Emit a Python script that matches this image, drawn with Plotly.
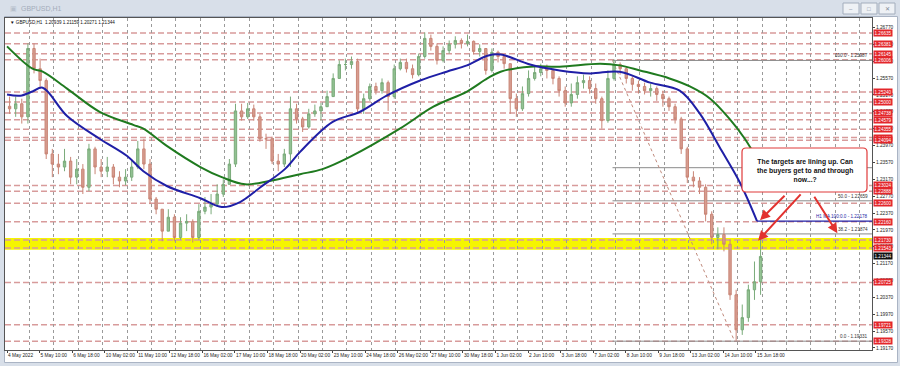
import plotly.graph_objects as go

# ---------------- data ----------------
symbol = "GBPUSD,H1"
header_ohlc = "1.20939 1.21159 1.20271 1.21344"
hours_per_candle = 6          # each drawn candle aggregates 6 hourly bars
first_open = 1.2490
closes = [1.2484,1.2496,1.2465,1.2627,1.2579,1.2551,1.2377,1.2353,1.2346,1.2360,
          1.2322,1.2341,1.2298,1.2389,1.2346,1.2336,1.2346,1.2322,1.2313,1.2322,
          1.2346,1.2389,1.2353,1.2270,1.2246,1.2194,1.2227,1.2179,1.2213,1.2217,
          1.2179,1.2241,1.2251,1.2258,1.2282,1.2305,1.2353,1.2479,1.2465,1.2484,
          1.2465,1.2413,1.2413,1.2360,1.2353,1.2377,1.2484,1.2460,1.2441,1.2472,
          1.2479,1.2489,1.2513,1.2556,1.2589,1.2589,1.2596,1.2484,1.2508,1.2537,
          1.2527,1.2546,1.2513,1.2579,1.2594,1.2579,1.2565,1.2608,1.2651,1.2632,
          1.2599,1.2622,1.2637,1.2646,1.2639,1.2644,1.2620,1.2627,1.2575,1.2618,
          1.2608,1.2591,1.2508,1.2484,1.2520,1.2556,1.2570,1.2579,1.2575,1.2556,
          1.2527,1.2498,1.2518,1.2546,1.2551,1.2532,1.2508,1.2456,1.2556,1.2589,
          1.2579,1.2556,1.2542,1.2537,1.2527,1.2532,1.2518,1.2508,1.2489,1.2460,
          1.2389,1.2322,1.2313,1.2298,1.2234,1.2179,1.2186,1.2163,1.2043,1.1960,
          1.1989,1.2055,1.2074,1.2134]
highs = [1.2513,1.2513,1.2508,1.2639,1.2639,1.2603,1.2556,1.2389,1.2377,1.2389,
         1.2370,1.2365,1.2353,1.2401,1.2394,1.2365,1.2370,1.2353,1.2336,1.2341,
         1.2365,1.2408,1.2413,1.2365,1.2275,1.2246,1.2246,1.2234,1.2227,1.2234,
         1.2222,1.2258,1.2275,1.2282,1.2305,1.2317,1.2365,1.2496,1.2496,1.2498,
         1.2494,1.2472,1.2425,1.2418,1.2377,1.2389,1.2513,1.2496,1.2465,1.2484,
         1.2494,1.2498,1.2527,1.2568,1.2599,1.2603,1.2608,1.2603,1.2520,1.2544,
         1.2546,1.2556,1.2551,1.2589,1.2603,1.2603,1.2589,1.2615,1.2665,1.2660,
         1.2639,1.2632,1.2646,1.2656,1.2651,1.2660,1.2646,1.2637,1.2627,1.2627,
         1.2622,1.2608,1.2591,1.2520,1.2537,1.2575,1.2584,1.2591,1.2589,1.2579,
         1.2561,1.2537,1.2544,1.2561,1.2565,1.2561,1.2544,1.2513,1.2575,1.2601,
         1.2594,1.2584,1.2561,1.2551,1.2546,1.2544,1.2537,1.2527,1.2513,1.2496,
         1.2465,1.2394,1.2336,1.2322,1.2305,1.2241,1.2203,1.2203,1.2174,1.2055,
         1.2020,1.2067,1.2122,1.2174]
lows = [1.2472,1.2465,1.2449,1.2449,1.2568,1.2532,1.2365,1.2322,1.2329,1.2336,
        1.2305,1.2305,1.2282,1.2289,1.2329,1.2322,1.2322,1.2305,1.2298,1.2303,
        1.2313,1.2341,1.2341,1.2258,1.2234,1.2170,1.2194,1.2170,1.2174,1.2194,
        1.2167,1.2174,1.2234,1.2234,1.2251,1.2275,1.2305,1.2346,1.2456,1.2460,
        1.2456,1.2406,1.2389,1.2353,1.2336,1.2346,1.2346,1.2449,1.2429,1.2437,
        1.2465,1.2456,1.2489,1.2513,1.2556,1.2575,1.2579,1.2472,1.2472,1.2503,
        1.2518,1.2520,1.2479,1.2508,1.2575,1.2570,1.2556,1.2561,1.2603,1.2622,
        1.2589,1.2594,1.2615,1.2627,1.2627,1.2632,1.2613,1.2608,1.2565,1.2570,
        1.2594,1.2579,1.2472,1.2465,1.2479,1.2513,1.2551,1.2561,1.2556,1.2542,
        1.2513,1.2489,1.2489,1.2508,1.2532,1.2520,1.2496,1.2437,1.2451,1.2551,
        1.2565,1.2544,1.2527,1.2520,1.2518,1.2513,1.2503,1.2489,1.2479,1.2449,
        1.2377,1.2308,1.2298,1.2282,1.2217,1.2163,1.2151,1.2146,1.2031,1.1934,
        1.1948,1.1979,1.2031,1.2043]

# moving averages (hour index from 4 May 02:00, value)
ma100_bar = [0, 13, 25, 35, 59, 91, 118, 134, 157, 190, 211, 229, 249, 273, 288, 320,
             347, 373, 406, 432, 452, 472, 485, 514, 543, 573, 602, 632, 661, 681, 700, 720, 737]
ma100_val = [1.2518, 1.2515, 1.2525, 1.2534, 1.2467, 1.2413, 1.2372, 1.2336, 1.2301, 1.2272,
             1.2251, 1.2263, 1.2298, 1.2341, 1.2382, 1.2453, 1.2477, 1.2515, 1.2551, 1.2572,
             1.2587, 1.2610, 1.2613, 1.2589, 1.2575, 1.2568, 1.2572, 1.2546, 1.2527, 1.2472,
             1.2394, 1.2310, 1.2218]
ma200_bar = [0, 25, 35, 59, 91, 124, 134, 157, 190, 211, 234, 258, 288, 310, 337, 386,
             419, 452, 472, 485, 514, 543, 583, 602, 622, 651, 671, 691, 710, 725, 737]
ma200_val = [1.2632, 1.2579, 1.2572, 1.2532, 1.2477, 1.2446, 1.2437, 1.2396, 1.2346, 1.2322,
             1.2305, 1.2313, 1.2329, 1.2341, 1.2370, 1.2437, 1.2489, 1.2525, 1.2556, 1.2572,
             1.2584, 1.2584, 1.2591, 1.2587, 1.2575, 1.2556, 1.2537, 1.2508, 1.2460, 1.2413,
             1.2365]

time_labels = ["4 May 2022", "5 May 10:00", "6 May 18:00", "10 May 02:00", "11 May 10:00",
               "12 May 18:00", "16 May 02:00", "17 May 10:00", "18 May 18:00", "20 May 02:00",
               "23 May 10:00", "24 May 18:00", "26 May 02:00", "27 May 10:00", "30 May 18:00",
               "1 Jun 02:00", "2 Jun 10:00", "3 Jun 18:00", "7 Jun 02:00", "8 Jun 10:00",
               "9 Jun 18:00", "13 Jun 02:00", "14 Jun 10:00", "15 Jun 18:00"]
label_step_bars = 32
first_midnight_bar = 22
price_ticks = [1.19170, 1.19570, 1.19970, 1.20370, 1.20770, 1.21170, 1.21570, 1.21970,
               1.22370, 1.22770, 1.23170, 1.23570, 1.23970, 1.24370, 1.24770, 1.25170,
               1.25570, 1.25970, 1.26370, 1.26770]
levels = [1.26635, 1.26381, 1.26145, 1.26006, 1.25240, 1.25000, 1.24738, 1.24579, 1.24355,
          1.24157, 1.24094, 1.23024, 1.22888, 1.22600, 1.22160, 1.21730, 1.21543, 1.20725,
          1.19721, 1.19328]
band_low, band_high = 1.21500, 1.21780
fib_start_bar, fib_low_bar = 595, 715
fib_names = ["100.0", "61.8", "50.0", "38.2", "0.0"]
fib_values = [1.25987, 1.23444, 1.22659, 1.21874, 1.19331]
ma_last_bar, ma_last = 737, 1.22178
last_price = 1.21344
note = "The targets are lining up. Can<br>the buyers get to and through<br>now...?"

# ---------------- geometry ----------------
W, H = 900, 366
L, R, T, B = 5, 28, 18, 16
PW, PH = W - L - R, H - T - B
XMIN, XMAX = -2, 850
YMIN, YMAX = 1.19122, 1.26993
FONT = "Liberation Sans, Arial, sans-serif"


def pxx(x):
    return (x - L) / PW


def pxy(y):
    return (H - B - y) / PH


opens = [first_open] + closes[:-1]
cx = [hours_per_candle * i + 2.5 for i in range(len(closes))]

fig = go.Figure()
fig.add_trace(go.Candlestick(
    x=cx, open=opens, high=highs, low=lows, close=closes,
    increasing=dict(line=dict(color="#7aab7a", width=1), fillcolor="#93c293"),
    decreasing=dict(line=dict(color="#c98576", width=1), fillcolor="#d79d90"),
    whiskerwidth=0, hoverinfo="skip", showlegend=False))
fig.add_trace(go.Scatter(x=ma200_bar, y=ma200_val, mode="lines", hoverinfo="skip",
                         line=dict(color="#1f7a1f", width=2, shape="spline", smoothing=1.0),
                         showlegend=False))
fig.add_trace(go.Scatter(x=ma100_bar, y=ma100_val, mode="lines", hoverinfo="skip",
                         line=dict(color="#1f1fa6", width=2, shape="spline", smoothing=1.0),
                         showlegend=False))

shapes = []
# window chrome (outside plot area)
chrome = "#d8dfe9"
shapes.append(dict(type="rect", xref="paper", yref="paper", x0=pxx(0), x1=pxx(W), y0=pxy(0), y1=pxy(16.5),
                   fillcolor=chrome, line_width=0, layer="below"))
shapes.append(dict(type="rect", xref="paper", yref="paper", x0=pxx(0), x1=pxx(4.5), y0=pxy(0), y1=pxy(H),
                   fillcolor=chrome, line_width=0, layer="below"))
shapes.append(dict(type="rect", xref="paper", yref="paper", x0=pxx(897.5), x1=pxx(W), y0=pxy(0), y1=pxy(H),
                   fillcolor=chrome, line_width=0, layer="below"))
shapes.append(dict(type="rect", xref="paper", yref="paper", x0=pxx(0), x1=pxx(W), y0=pxy(362.5), y1=pxy(H),
                   fillcolor=chrome, line_width=0, layer="below"))
shapes.append(dict(type="rect", xref="paper", yref="paper", x0=pxx(4.5), x1=pxx(897.5), y0=pxy(16.5), y1=pxy(362.5),
                   fillcolor="rgba(0,0,0,0)", line=dict(color="#aab4c4", width=1), layer="below"))
for bx in (843, 861, 879):
    shapes.append(dict(type="rect", xref="paper", yref="paper", x0=pxx(bx), x1=pxx(bx + 16), y0=pxy(3), y1=pxy(14),
                       fillcolor="#eef1f5", line=dict(color="#a3adbc", width=1), layer="below"))

# yellow zone and red dashed levels
shapes.append(dict(type="rect", xref="paper", x0=0, x1=1, yref="y", y0=band_low, y1=band_high,
                   fillcolor="#f5f500", line_width=0, layer="below"))
for lv in levels:
    shapes.append(dict(type="line", xref="paper", x0=0, x1=1, yref="y", y0=lv, y1=lv,
                       line=dict(color="#d89b9b", width=1.5, dash="6px,3px"), layer="below"))
# fibonacci levels
for fv in fib_values:
    shapes.append(dict(type="line", xref="x", x0=fib_start_bar, x1=XMAX, yref="y", y0=fv, y1=fv,
                       line=dict(color="#8a8a8a", width=1), layer="below"))
shapes.append(dict(type="line", xref="x", yref="y", x0=fib_start_bar, y0=fib_values[0],
                   x1=fib_low_bar, y1=fib_values[-1],
                   line=dict(color="#c08a7c", width=1, dash="dot"), layer="below"))
# MA ray
shapes.append(dict(type="line", xref="x", x0=ma_last_bar, x1=XMAX, yref="y", y0=ma_last, y1=ma_last,
                   line=dict(color="#1f1fa6", width=1.2), layer="above"))

# rounded note box
bx0, by0, bx1, by1, r = 742, 148, 867, 192, 4
pts = [("M", bx0 + r, by0), ("L", bx1 - r, by0), ("Q", bx1, by0, bx1, by0 + r), ("L", bx1, by1 - r),
       ("Q", bx1, by1, bx1 - r, by1), ("L", bx0 + r, by1), ("Q", bx0, by1, bx0, by1 - r),
       ("L", bx0, by0 + r), ("Q", bx0, by0, bx0 + r, by0)]
path = ""
for p in pts:
    cmd = p[0]
    coords = p[1:]
    segs = []
    for k in range(0, len(coords), 2):
        segs.append(f"{pxx(coords[k]):.5f},{pxy(coords[k + 1]):.5f}")
    path += cmd + " " + " ".join(segs) + " "
path += "Z"
shapes.append(dict(type="path", xref="paper", yref="paper", path=path, fillcolor="white",
                   line=dict(color="#e03a3a", width=1.2), layer="above"))

annotations = []
# title bar text and window buttons glyphs
annotations.append(dict(xref="paper", yref="paper", x=pxx(19), y=pxy(8.5), xanchor="left", yanchor="middle",
                        text=symbol, showarrow=False, font=dict(size=7, color="#a4adbb", family=FONT)))
annotations.append(dict(xref="paper", yref="paper", x=pxx(8), y=pxy(8.5), xanchor="left", yanchor="middle",
                        text="▣", showarrow=False, font=dict(size=7, color="#b7c0cc", family=FONT)))
for bx, g in ((843, "–"), (861, "□"), (879, "✕")):
    annotations.append(dict(xref="paper", yref="paper", x=pxx(bx + 8), y=pxy(8.5), xanchor="center",
                            yanchor="middle", text=g, showarrow=False,
                            font=dict(size=6, color="#7d8795", family=FONT)))
# chart header
annotations.append(dict(xref="paper", yref="paper", x=pxx(8), y=pxy(22.5), xanchor="left", yanchor="middle",
                        text="▼ " + symbol + "  " + header_ohlc, showarrow=False,
                        font=dict(size=4.6, color="#111", family=FONT)))
# price labels for the levels
for lv in levels:
    annotations.append(dict(xref="paper", x=1, xanchor="left", xshift=1, yref="y", y=lv, yanchor="middle",
                            text=f"{lv:.5f}", showarrow=False, bgcolor="#e3262b", borderpad=0.5,
                            font=dict(size=4.6, color="white", family=FONT)))
annotations.append(dict(xref="paper", x=1, xanchor="left", xshift=1, yref="y", y=last_price, yanchor="middle",
                        text=f"{last_price:.5f}", showarrow=False, bgcolor="#111111", borderpad=0.5,
                        font=dict(size=4.6, color="white", family=FONT)))
# fibo labels
for name, fv in zip(fib_names, fib_values):
    if name == "61.8":
        continue
    annotations.append(dict(xref="paper", x=1, xanchor="right", xshift=-2, yref="y", y=fv, yanchor="bottom",
                            text=f"{name} - {fv:.5f}", showarrow=False,
                            font=dict(size=4.6, color="#333", family=FONT)))
annotations.append(dict(xref="paper", x=1, xanchor="right", xshift=-2, yref="y", y=ma_last, yanchor="bottom",
                        text=f"H1 MA 100:0.0 - {ma_last:.5f}", showarrow=False,
                        font=dict(size=4.6, color="#1f1fa6", family=FONT)))
# note text
annotations.append(dict(xref="paper", yref="paper", x=pxx((bx0 + bx1) / 2), y=pxy((by0 + by1) / 2),
                        xanchor="center", yanchor="middle", text="<b>" + note + "</b>", showarrow=False,
                        align="center", font=dict(size=6.8, color="#111", family=FONT)))
# arrows (head in data coords, tail offset in px)
for hx, hy, ax, ay in ((740, 1.2220, 26, -26), (738, 1.2171, 44, -48), (816, 1.2189, -24, -38)):
    annotations.append(dict(x=hx, y=hy, xref="x", yref="y", ax=ax, ay=ay, axref="pixel", ayref="pixel",
                            text="", showarrow=True, arrowhead=2, arrowsize=1, arrowwidth=2,
                            arrowcolor="#e2322f"))

fig.update_layout(
    width=W, height=H, margin=dict(l=L, r=R, t=T, b=B, pad=0),
    paper_bgcolor="white", plot_bgcolor="white", boxgap=0.45,
    shapes=shapes, annotations=annotations, hovermode=False, showlegend=False,
    font=dict(family=FONT, size=5, color="#222"),
    xaxis=dict(range=[XMIN, XMAX], rangeslider=dict(visible=False), showgrid=False, zeroline=False,
               tickmode="array", tickvals=[label_step_bars * k for k in range(len(time_labels))],
               ticktext=time_labels, ticks="outside", ticklen=2, tickcolor="#444", tickangle=0,
               ticklabelposition="outside right", tickfont=dict(size=4.8, color="#222", family=FONT),
               showline=True, mirror=True, linecolor="#555", linewidth=1,
               minor=dict(tickmode="linear", tick0=first_midnight_bar, dtick=24, showgrid=True,
                          gridcolor="#9a9a9a", griddash="dot", gridwidth=1, ticks="")),
    yaxis=dict(range=[YMIN, YMAX], side="right", showgrid=False, zeroline=False,
               tickmode="array", tickvals=price_ticks, ticktext=[f"{v:.5f}" for v in price_ticks],
               ticks="outside", ticklen=2, tickcolor="#444",
               tickfont=dict(size=4.8, color="#222", family=FONT),
               showline=True, mirror=True, linecolor="#555", linewidth=1),
)

fig.write_html("out.html")
